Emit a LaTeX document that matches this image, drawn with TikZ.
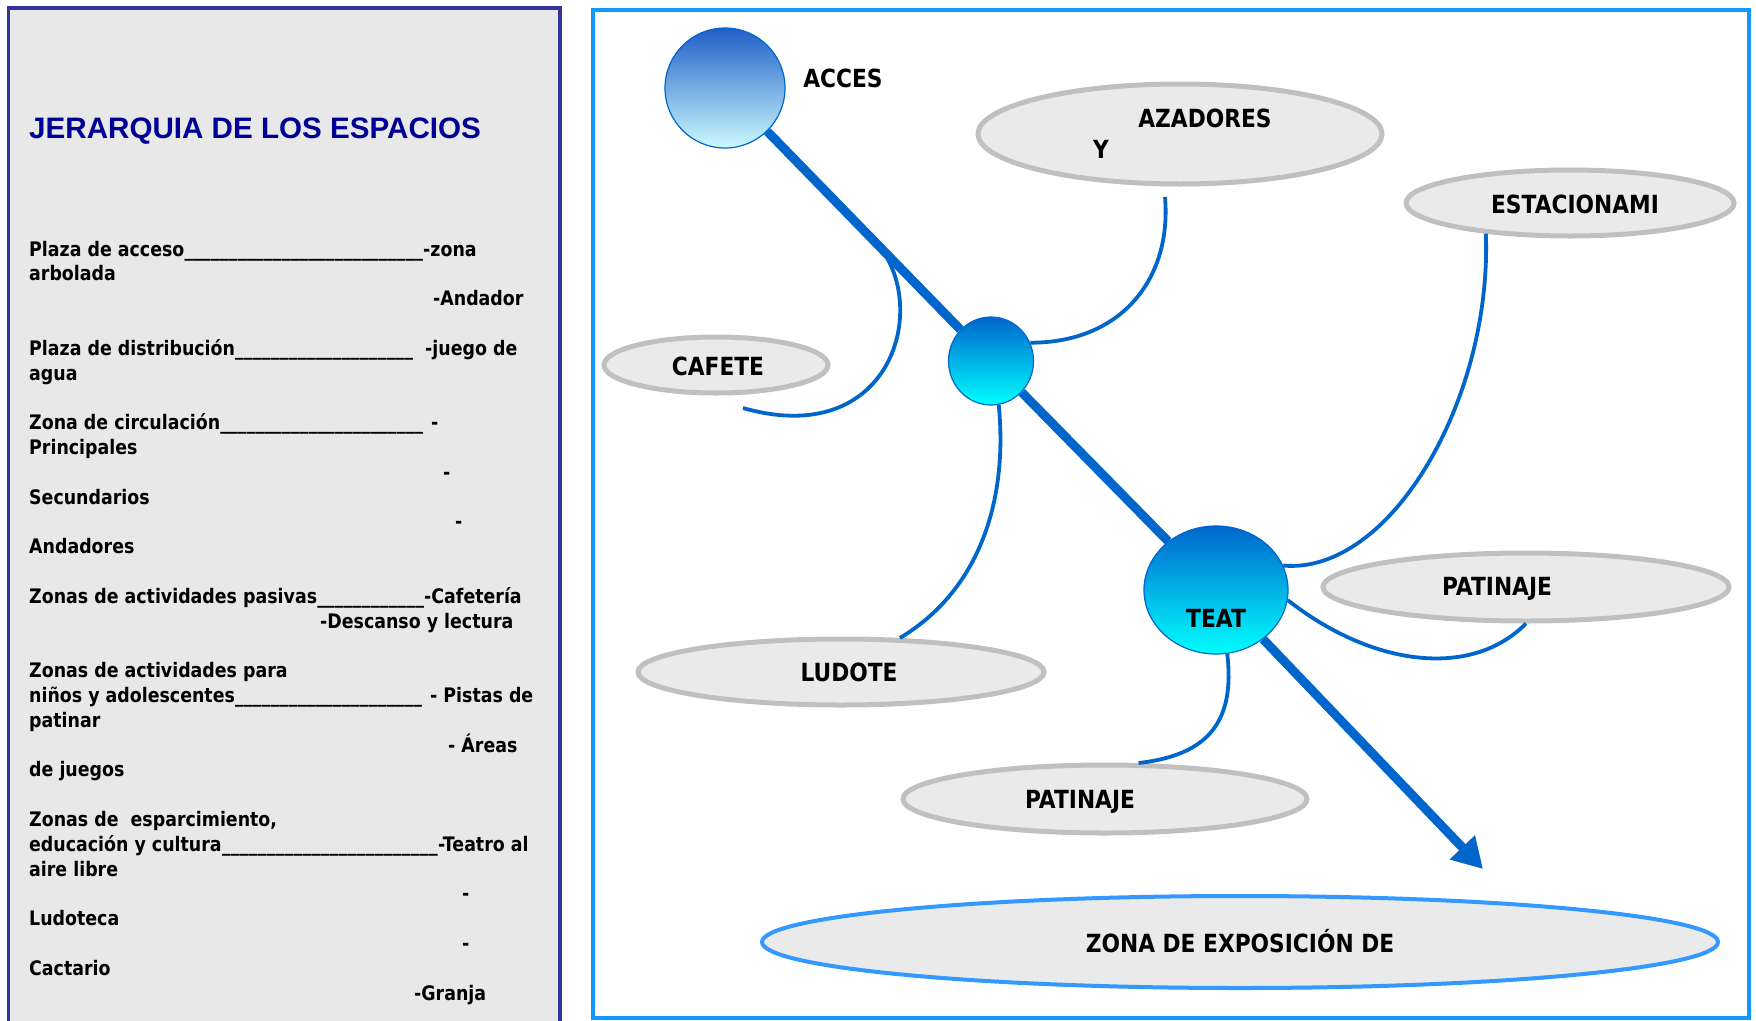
\documentclass[tikz,border=0pt]{standalone}
\usepackage{fontspec}
\setmainfont{DejaVu Sans}[FakeStretch=0.87]
\newfontfamily\titlefont{Liberation Sans}
\usetikzlibrary{arrows.meta,shapes.geometric,calc}
\definecolor{panelgray}{RGB}{232,232,232}
\definecolor{panelline}{RGB}{51,51,153}
\definecolor{titleblue}{RGB}{0,0,150}
\definecolor{frameblue}{RGB}{17,153,255}
\definecolor{zonablue}{RGB}{51,153,255}
\definecolor{pathblue}{RGB}{0,102,204}
\definecolor{accestop}{RGB}{31,95,200}
\definecolor{accesbottom}{RGB}{204,250,255}
\definecolor{ovalgray}{RGB}{234,234,234}
\definecolor{ovalline}{RGB}{192,192,192}
\newcommand\fillto[2]{\hbox to #1{#2\xleaders\hbox{\_}\hfill}}

\begin{document}
\begin{tikzpicture}[x=1pt,y=-1pt,
  txt/.style={anchor=base west,inner sep=0,font=\bfseries\fontsize{20}{24}\selectfont},
  lbl/.style={anchor=base,inner sep=0,font=\bfseries\fontsize{25}{30}\selectfont},
  oval/.style={ellipse,draw=ovalline,fill=ovalgray,line width=5pt,inner sep=0},
  hub/.style={ellipse,draw=pathblue,line width=1.2pt,inner sep=0,top color=#1,bottom color=cyan},
  axis/.style={pathblue,line width=9pt},
  branch/.style={pathblue,line width=3.8pt}]
\clip (0,0) rectangle (1756,1020);
\fill[white] (0,0) rectangle (1756,1020);
\draw[panelline,fill=panelgray,line width=3.5pt] (8.5,8) rectangle (560,1040);
\draw[frameblue,line width=3.5pt] (593,10) rectangle (1749,1018);

\node[anchor=base west,inner sep=0,text=titleblue,font=\titlefont\bfseries\fontsize{29.6}{34}\selectfont] (title) at (29,138) {JERARQUIA DE LOS ESPACIOS};
\foreach \n/\x/\t in {0/29/{\fillto{394pt}{Plaza de acceso}-zona},1/29/arbolada,2/433/-Andador,
  4/29/{\fillto{384pt}{Plaza de distribución}\hspace{12pt}-juego de},5/29/agua,
  7/29/{\fillto{394pt}{Zona de circulación}\hspace{8pt}-},8/29/Principales,9/443/-,10/29/Secundarios,11/455/-,12/29/Andadores,
  14/29/{\fillto{395pt}{Zonas de actividades pasivas}-Cafetería},15/320/-Descanso y lectura,
  17/29/Zonas de actividades para,18/29/{\fillto{393pt}{niños y adolescentes}\hspace{8pt}- Pistas de},19/29/patinar,20/448/- Áreas,21/29/de juegos,
  23/29/{Zonas de~ esparcimiento,},24/29/{\fillto{409pt}{educación y cultura}-Teatro al},25/29/aire libre,26/462/-,27/29/Ludoteca,28/462/-,29/29/Cactario,30/414/-Granja}
  \node[txt] (ln\n) at (\x,{256+24.8*\n}) {\t};

\node[oval,minimum width=404pt,minimum height=100pt] (azad) at (1180,134) {};
\node[oval,minimum width=328pt,minimum height=66pt] (est) at (1570,203) {};
\node[oval,minimum width=224pt,minimum height=56pt] (caf) at (716,365) {};
\node[oval,minimum width=406pt,minimum height=68pt] (pat1) at (1526,587) {};
\node[oval,minimum width=406pt,minimum height=66pt] (lud) at (841,672) {};
\node[oval,minimum width=404pt,minimum height=68pt] (pat2) at (1105,799) {};
\node[oval,draw=zonablue,line width=4pt,minimum width=956pt,minimum height=92pt] (zona) at (1240,942) {};

\node[hub=accestop,bottom color=accesbottom,minimum width=120pt,minimum height=120pt] (acc) at (725,88) {};
\node[hub=pathblue,minimum width=85pt,minimum height=88pt] (mid) at (991,361) {};
\node[hub=pathblue,minimum width=144pt,minimum height=128pt] (teat) at (1216,590) {};

\coordinate (tip) at (1483,869);
\coordinate (cafstart) at ($(acc)!0.58!(mid)$);
\coordinate (cafend) at (743,408);
\coordinate (azend) at (1165,197);
\draw[axis] (acc) -- (mid);
\draw[axis] (mid) -- (teat);
\draw[axis,-{Triangle[length=30pt,width=33pt]}] (teat) -- (tip);

\draw[branch] (cafstart) .. controls (930,310) and (890,450) .. (cafend);
\draw[branch] (mid.25) .. controls (1120,343) and (1172,280) .. (azend);
\draw[branch] (teat.20) .. controls (1390,575) and (1492,400) .. (est.200);
\draw[branch] (teat.-8) .. controls (1370,665) and (1470,680) .. (pat1.south);
\draw[branch] (mid.-80) .. controls (1008,500) and (980,590) .. (lud.30);
\draw[branch] (teat.-80) .. controls (1235,720) and (1210,755) .. (pat2.47);

\node[lbl] (accl) at (843,87) {ACCES};
\node[lbl] (azadl) at (1205,127) {AZADORES};
\node[lbl] (yl) at (1101,158) {Y};
\node[lbl] (estl) at (1575,213) {ESTACIONAMI};
\node[lbl] (cafl) at (718,375) {CAFETE};
\node[lbl] (pat1l) at (1497,595) {PATINAJE};
\node[lbl] (teatl) at (1216,627) {TEAT};
\node[lbl] (ludl) at (849,681) {LUDOTE};
\node[lbl] (pat2l) at (1080,808) {PATINAJE};
\node[lbl] (zonal) at (1240,952) {ZONA DE EXPOSICIÓN DE};
\end{tikzpicture}
\end{document}
